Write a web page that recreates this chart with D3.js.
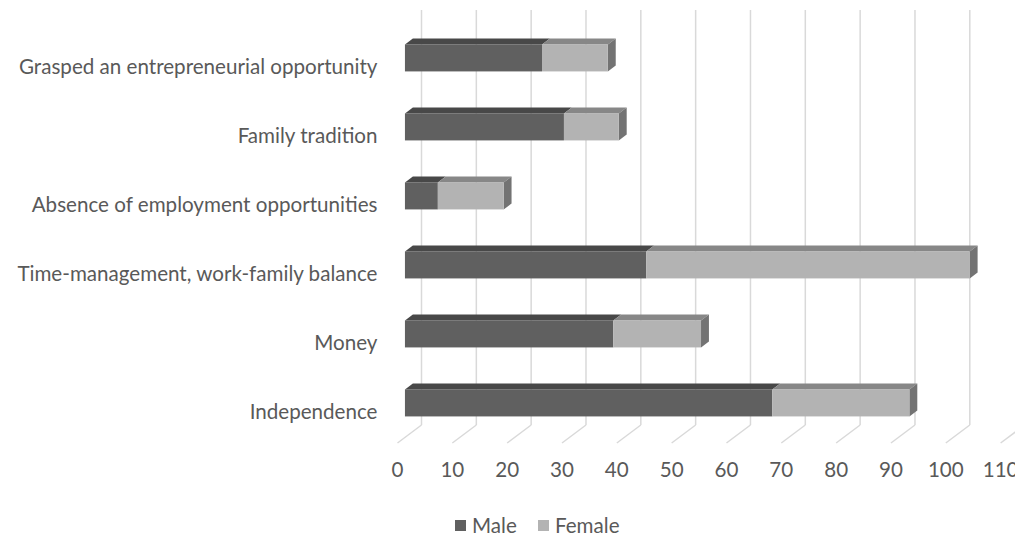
<!DOCTYPE html>
<html>
<head>
<meta charset="utf-8">
<script src="https://cdn.jsdelivr.net/npm/d3@7"></script>
<style>
  body { margin: 0; background: #fff; }
  svg text { font-family: Lato, "Open Sans", sans-serif; fill: #595959; }
</style>
</head>
<body>
<svg id="chart"></svg>
<script>
const categories = [
  "Grasped an entrepreneurial opportunity",
  "Family tradition",
  "Absence of employment opportunities",
  "Time-management, work-family balance",
  "Money",
  "Independence"
];
const maleValues = [25, 29, 6, 44, 38, 67];
const femaleValues = [12, 10, 12, 59, 16, 25];
const seriesNames = ["Male", "Female"];
const tickValues = [0, 10, 20, 30, 40, 50, 60, 70, 80, 90, 100, 110];

const width = 1015;
const height = 536;
const fontSize = "20.6px";

// 3d look: the floor goes back by (depthX, depthY)
const depthX = 24;
const depthY = -18;
const barFront = 0.31;
const barBack = 0.64;
const floorY = 443;

const faces = {
  Male: { front: "#606060", top: "#484848", side: "#3f3f3f" },
  Female: { front: "#b3b3b3", top: "#878787", side: "#737373" }
};

const svg = d3.select("#chart").attr("width", width).attr("height", height);

const x = d3.scaleLinear().domain([0, 110]).range([397.5, 397.5 + 110 * 5.483]);

const frontY = floorY + depthY * barFront;
const y = d3
  .scaleBand()
  .domain(categories.slice().reverse())
  .range([frontY, frontY - 6 * 69])
  .paddingInner(0.6087)
  .paddingOuter(0.3043);

// gridlines on the back wall and floor
const grid = svg.append("g").attr("class", "grid");
grid
  .selectAll("line.wall")
  .data(tickValues)
  .enter()
  .append("line")
  .attr("class", "wall")
  .attr("x1", d => x(d) + depthX)
  .attr("x2", d => x(d) + depthX)
  .attr("y1", floorY + depthY)
  .attr("y2", 10)
  .attr("stroke", "#d9d9d9")
  .attr("stroke-width", 1.5);
grid
  .selectAll("line.floor")
  .data(tickValues)
  .enter()
  .append("line")
  .attr("class", "floor")
  .attr("x1", d => x(d))
  .attr("x2", d => x(d) + depthX)
  .attr("y1", floorY)
  .attr("y2", floorY + depthY)
  .attr("stroke", "#d9d9d9")
  .attr("stroke-width", 1.5);

// tick labels
svg
  .append("g")
  .selectAll("text")
  .data(tickValues)
  .enter()
  .append("text")
  .attr("x", d => x(d))
  .attr("y", 470)
  .attr("dy", "0.35em")
  .attr("text-anchor", "middle")
  .attr("font-size", fontSize)
  .text(d => d);

// category labels
svg
  .append("g")
  .selectAll("text")
  .data(categories)
  .enter()
  .append("text")
  .attr("x", x(0) - 20)
  .attr("y", d => y(d) + y.bandwidth() / 2 - depthY * barFront + 3)
  .attr("dy", "0.35em")
  .attr("text-anchor", "end")
  .attr("font-size", fontSize)
  .text(d => d);

// stacked segments
const segments = [];
categories.forEach((c, i) => {
  segments.push({ cat: c, series: "Male", x0: 0, x1: maleValues[i], last: false });
  segments.push({
    cat: c,
    series: "Female",
    x0: maleValues[i],
    x1: maleValues[i] + femaleValues[i],
    last: true
  });
});

const dx = depthX * (barBack - barFront);
const dy = depthY * (barBack - barFront);
const off = depthX * barFront;

const bars = svg.append("g").attr("class", "bars");
const seg = bars
  .selectAll("g.seg")
  .data(segments)
  .enter()
  .append("g")
  .attr("class", "seg");

seg
  .append("path")
  .attr("fill", d => faces[d.series].top)
  .attr("d", d => {
    const xa = x(d.x0) + off;
    const xb = x(d.x1) + off;
    const top = y(d.cat);
    return `M${xa},${top}L${xa + dx},${top + dy}L${xb + dx},${top + dy}L${xb},${top}Z`;
  });

seg
  .filter(d => d.last)
  .append("path")
  .attr("fill", d => faces[d.series].side)
  .attr("d", d => {
    const xb = x(d.x1) + off;
    const top = y(d.cat);
    const bot = top + y.bandwidth();
    return `M${xb},${top}L${xb + dx},${top + dy}L${xb + dx},${bot + dy}L${xb},${bot}Z`;
  });

seg
  .append("rect")
  .attr("fill", d => faces[d.series].front)
  .attr("x", d => x(d.x0) + off)
  .attr("y", d => y(d.cat))
  .attr("width", d => x(d.x1) - x(d.x0))
  .attr("height", y.bandwidth());

// legend
const legend = svg.append("g").attr("transform", "translate(455,526)");
const legendX = [0, 83];
seriesNames.forEach((s, i) => {
  const g = legend.append("g").attr("transform", `translate(${legendX[i]},0)`);
  g.append("rect")
    .attr("x", 0)
    .attr("y", -6)
    .attr("width", 11)
    .attr("height", 11)
    .attr("fill", faces[s].front);
  g.append("text")
    .attr("x", 17)
    .attr("y", 0)
    .attr("dy", "0.35em")
    .attr("font-size", fontSize)
    .text(s);
});
</script>
</body>
</html>
